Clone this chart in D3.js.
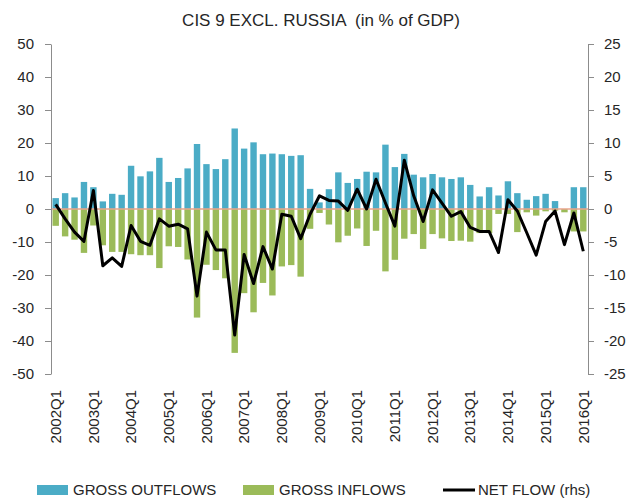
<!DOCTYPE html>
<html>
<head>
<meta charset="utf-8">
<script src="https://cdnjs.cloudflare.com/ajax/libs/d3/7.8.5/d3.min.js"></script>
<style>
  body { margin: 0; background: #fff; }
  svg text { font-family: "Liberation Sans", Arial, sans-serif; fill: #262626; }
</style>
</head>
<body>
<div id="chart"></div>
<script>
// quarterly categories, 2002Q1 .. 2016Q1
var quarters = [
  '2002Q1','2002Q2','2002Q3','2002Q4','2003Q1','2003Q2','2003Q3','2003Q4',
  '2004Q1','2004Q2','2004Q3','2004Q4','2005Q1','2005Q2','2005Q3','2005Q4',
  '2006Q1','2006Q2','2006Q3','2006Q4','2007Q1','2007Q2','2007Q3','2007Q4',
  '2008Q1','2008Q2','2008Q3','2008Q4','2009Q1','2009Q2','2009Q3','2009Q4',
  '2010Q1','2010Q2','2010Q3','2010Q4','2011Q1','2011Q2','2011Q3','2011Q4',
  '2012Q1','2012Q2','2012Q3','2012Q4','2013Q1','2013Q2','2013Q3','2013Q4',
  '2014Q1','2014Q2','2014Q3','2014Q4','2015Q1','2015Q2','2015Q3','2015Q4',
  '2016Q1'
];

// left axis, % of GDP
var grossOutflows = [
  3.3, 4.8, 3.5, 8.2, 6.6, 2.3, 4.6, 4.3,
  13.1, 9.9, 11.4, 15.5, 8.2, 9.4, 12.3, 19.7,
  13.6, 12.1, 15.1, 24.4, 18.3, 20.2, 16.6, 16.8,
  16.6, 16.1, 16.3, 6.1, 2.0, 6.0, 11.1, 7.9,
  9.1, 11.3, 11.1, 19.5, 12.7, 16.7, 10.4, 9.6,
  10.6, 9.6, 9.1, 9.6, 7.3, 3.8, 6.6, 4.1,
  8.4, 4.8, 2.8, 3.9, 4.6, 2.4, 0, 6.6,
  6.6
];

var grossInflows = [
  -5.1, -8.3, -9.3, -13.3, -5.0, -11.0, -13.0, -13.0,
  -13.7, -14.0, -14.0, -17.9, -11.3, -11.5, -15.3, -32.9,
  -16.9, -18.5, -21.0, -43.6, -25.5, -31.3, -22.4, -26.2,
  -17.4, -17.0, -20.5, -6.0, -1.2, -4.7, -10.1, -8.1,
  -5.9, -11.2, -6.6, -18.9, -15.4, -9.0, -7.6, -12.1,
  -7.6, -8.9, -9.7, -9.6, -9.9, -7.3, -7.3, -1.5,
  -1.5, -7.0, -1.0, -2.0, -0.7, -0.5, -1.0, -6.8,
  -6.8
];

// right axis (rhs)
var netFlow = [
  0.7, -1.5, -3.5, -4.9, 2.8, -8.6, -7.4, -8.7,
  -2.5, -4.9, -5.5, -1.5, -2.6, -2.3, -3.0, -13.2,
  -3.5, -6.2, -6.2, -19.1, -6.9, -11.3, -5.7, -9.1,
  -0.8, -1.1, -4.5, -0.8, 2.0, 1.3, 1.2, -0.2,
  3.0, 0.0, 4.5, 0.9, -2.6, 7.4, 2.0, -1.9,
  2.9, 0.9, -1.1, -0.4, -2.8, -3.4, -3.4, -6.6,
  1.4, -0.3, -3.6, -7.0, -1.9, -0.3, -5.4, -0.6,
  -6.4
];

var leftTicks = [50, 40, 30, 20, 10, 0, -10, -20, -30, -40, -50];
var rightTicks = [25, 20, 15, 10, 5, 0, -5, -10, -15, -20, -25];
var xTickLabels = ['2002Q1','2003Q1','2004Q1','2005Q1','2006Q1','2007Q1','2008Q1',
  '2009Q1','2010Q1','2011Q1','2012Q1','2013Q1','2014Q1','2015Q1','2016Q1'];

var legendItems = [
  { label: 'GROSS OUTFLOWS', type: 'rect', color: '#4bacc6', x: 37 },
  { label: 'GROSS INFLOWS', type: 'rect', color: '#9bbb59', x: 243 },
  { label: 'NET FLOW (rhs)', type: 'line', color: '#000', x: 443 }
];

// dimensions
var margin = { top: 44, right: 42, bottom: 128, left: 51 },
  width = 630 - margin.left - margin.right,
  height = 502 - margin.top - margin.bottom;

var svgRoot = d3.select('#chart')
  .append('svg')
  .attr('width', 630)
  .attr('height', 502);

svgRoot.append('text')
  .attr('x', 321)
  .attr('y', 26)
  .attr('text-anchor', 'middle')
  .style('font-size', '17px')
  .style('white-space', 'pre')
  .text('CIS 9 EXCL. RUSSIA  (in % of GDP)');

var svg = svgRoot.append('g')
  .attr('transform', 'translate(' + margin.left + ',' + margin.top + ')');

var xScale = d3.scaleBand()
  .domain(quarters)
  .range([0, width])
  .paddingInner(0.32)
  .paddingOuter(0.16);

var yLeft = d3.scaleLinear().domain([-50, 50]).range([height, 0]);
var yRight = d3.scaleLinear().domain([-25, 25]).range([height, 0]);

// plain hyphen for negatives, like the original
var plainFormat = function(d) { return String(d); };

// bars
svg.append('g')
  .selectAll('rect')
  .data(grossOutflows)
  .enter()
  .append('rect')
  .attr('x', function(d, i) { return xScale(quarters[i]); })
  .attr('width', xScale.bandwidth())
  .attr('y', function(d) { return yLeft(Math.max(d, 0)); })
  .attr('height', function(d) { return Math.abs(yLeft(d) - yLeft(0)); })
  .attr('fill', '#4bacc6');

svg.append('g')
  .selectAll('rect')
  .data(grossInflows)
  .enter()
  .append('rect')
  .attr('x', function(d, i) { return xScale(quarters[i]); })
  .attr('width', xScale.bandwidth())
  .attr('y', function(d) { return yLeft(Math.max(d, 0)); })
  .attr('height', function(d) { return Math.abs(yLeft(d) - yLeft(0)); })
  .attr('fill', '#9bbb59');

// zero line
svg.append('line')
  .attr('x1', 0)
  .attr('x2', width)
  .attr('y1', yLeft(0))
  .attr('y2', yLeft(0))
  .attr('stroke', '#e8a58c')
  .attr('stroke-width', 1.3);

// left axis
var leftAxis = svg.append('g')
  .call(d3.axisLeft(yLeft).tickValues(leftTicks).tickFormat(plainFormat)
    .tickSize(6).tickSizeOuter(0).tickPadding(11));

// right axis
var rightAxis = svg.append('g')
  .attr('transform', 'translate(' + width + ',0)')
  .call(d3.axisRight(yRight).tickValues(rightTicks).tickFormat(plainFormat)
    .tickSize(6).tickSizeOuter(0).tickPadding(10));

[leftAxis, rightAxis].forEach(function(ax) {
  ax.select('.domain').attr('stroke', '#8c8c8c');
  ax.selectAll('.tick line').attr('stroke', '#8c8c8c');
  ax.selectAll('.tick text')
    .style('font-size', '15px')
    .style('font-family', '"Liberation Sans", Arial, sans-serif')
    .attr('fill', '#262626');
});

// net flow line on the right scale
svg.append('path')
  .datum(netFlow)
  .attr('fill', 'none')
  .attr('stroke', '#000')
  .attr('stroke-width', 3)
  .attr('stroke-linejoin', 'round')
  .attr('d', d3.line()
    .x(function(d, i) { return xScale(quarters[i]) + xScale.bandwidth() / 2; })
    .y(function(d) { return yRight(d); })
  );

// x labels, rotated
svg.append('g')
  .selectAll('text')
  .data(xTickLabels)
  .enter()
  .append('text')
  .attr('transform', function(d) {
    return 'translate(' + (xScale(d) + xScale.bandwidth() / 2) + ',' + (height + 16) + ') rotate(-90)';
  })
  .attr('text-anchor', 'end')
  .attr('dy', '0.35em')
  .style('font-size', '15px')
  .text(function(d) { return d; });

// legend
var legend = svgRoot.append('g')
  .selectAll('g')
  .data(legendItems)
  .enter()
  .append('g')
  .attr('transform', function(d) { return 'translate(' + d.x + ',490)'; });

legend.filter(function(d) { return d.type === 'rect'; })
  .append('rect')
  .attr('x', 0)
  .attr('y', -5)
  .attr('width', 31)
  .attr('height', 10)
  .attr('fill', function(d) { return d.color; });

legend.filter(function(d) { return d.type === 'line'; })
  .append('line')
  .attr('x1', 0)
  .attr('x2', 32)
  .attr('y1', 0)
  .attr('y2', 0)
  .attr('stroke', function(d) { return d.color; })
  .attr('stroke-width', 3);

legend.append('text')
  .attr('x', function(d) { return d.type === 'line' ? 35 : 36; })
  .attr('y', 0)
  .attr('dy', '0.35em')
  .style('font-size', '15px')
  .text(function(d) { return d.label; });
</script>
</body>
</html>
